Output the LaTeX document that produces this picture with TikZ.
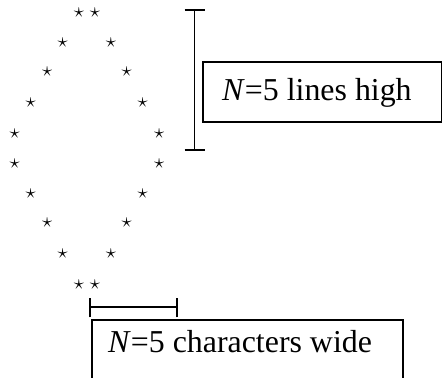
\documentclass[tikz,border=0pt]{standalone}
\usepackage{fontspec}
\setmainfont{Liberation Serif}
\begin{document}
\begin{tikzpicture}[x=1bp,y=-1bp,
  starnode/.style={inner sep=0pt, font=\fontsize{22}{22}\selectfont},
  boxnode/.style={draw, line width=1.5bp, inner sep=0pt, anchor=north west},
  lbl/.style={inner sep=0pt, anchor=base west, font=\fontsize{32}{38}\selectfont},
  bar/.style={line width=1.8bp}]
\useasboundingbox (0,0) rectangle (442,377);
\clip (0,0) rectangle (442,377);
% stars
\foreach \i/\y/\xl/\xr in {1/12.7/79/95, 2/42.3/62.7/111, 3/71.7/47.3/126.7, 4/102.7/30.7/142.7, 5/133.3/14.7/159.3,
  6/163.3/14.7/159.3, 7/193.3/30.7/142.7, 8/222.7/47.3/126.7, 9/254/62.7/111, 10/284.3/79/95}{
  \node[starnode] (l\i) at (\xl,\y) {$\star$};
  \node[starnode] (r\i) at (\xr,\y) {$\star$};
}
% vertical bar
\coordinate (vt) at (194.5,9.7);
\coordinate (vb) at (194.5,149.7);
\draw[bar] (vt) -- (vb);
\draw[bar] ([xshift=-10bp]vt) -- ([xshift=10bp]vt);
\draw[bar] ([xshift=-10bp]vb) -- ([xshift=10bp]vb);
% box 1
\node[boxnode, minimum width=239bp, minimum height=60bp] (box1) at (202,61) {};
\node[lbl] (t1) at (222,100) {\textit{N}=5 lines high};
% horizontal bar
\coordinate (hl) at (89.7,307.3);
\coordinate (hr) at (176.7,307.3);
\draw[bar] (hl) -- (hr);
\draw[bar] ([yshift=-10bp]hl) -- ([yshift=9bp]hl);
\draw[bar] ([yshift=-10bp]hr) -- ([yshift=9bp]hr);
% box 2
\node[boxnode, minimum width=311bp, minimum height=75bp] (box2) at (91,319) {};
\node[lbl] (t2) at (108,352) {\textit{N}=5 characters wide};
\end{tikzpicture}
\end{document}
